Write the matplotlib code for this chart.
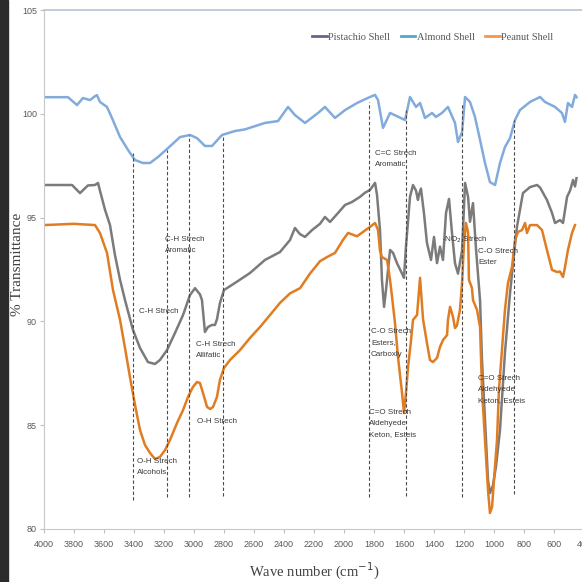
import matplotlib
matplotlib.use("Agg")
import matplotlib.pyplot as plt
from matplotlib.lines import Line2D
from matplotlib.patches import Rectangle

# FTIR spectra of the three shells
almond_wn = [4000, 3840, 3780, 3740, 3693, 3660, 3647, 3627, 3580, 3547, 3493, 3440, 3393, 3340,
             3293, 3240, 3173, 3093, 3027, 2980, 2927, 2880, 2813, 2727, 2660, 2527, 2440, 2373,
             2327, 2260, 2173, 2127, 2060, 1993, 1913, 1827, 1793, 1773, 1740, 1693, 1593, 1560,
             1520, 1493, 1460, 1413, 1387, 1347, 1307, 1260, 1240, 1213, 1193, 1160, 1127, 1093,
             1060, 1027, 993, 960, 927, 893, 860, 827, 760, 693, 660, 593, 547, 527, 507, 480,
             460, 450]
almond_t = [100.8, 100.8, 100.42, 100.76, 100.66, 100.85, 100.9, 100.57, 100.33, 99.8, 98.88,
            98.26, 97.77, 97.63, 97.63, 97.92, 98.35, 98.88, 98.98, 98.83, 98.45, 98.45, 98.98,
            99.17, 99.25, 99.56, 99.65, 100.33, 99.94, 99.56, 100.04, 100.33, 99.8, 100.18,
            100.52, 100.81, 100.91, 100.66, 99.32, 100.04, 99.7, 100.81, 100.33, 100.52, 99.8,
            100.04, 99.85, 100.04, 100.33, 99.56, 98.64, 99.12, 100.81, 100.57, 99.85, 98.74,
            97.63, 96.71, 96.57, 97.63, 98.4, 98.83, 99.7, 100.18, 100.57, 100.81, 100.57,
            100.33, 100.04, 99.61, 100.52, 100.33, 100.91, 100.8]

pistachio_wn = [4000, 3813, 3760, 3707, 3660, 3640, 3627, 3593, 3560, 3527, 3493, 3460, 3407,
                3360, 3307, 3260, 3227, 3180, 3127, 3073, 3027, 2993, 2960, 2947, 2927, 2907,
                2880, 2860, 2847, 2827, 2800, 2727, 2627, 2527, 2427, 2360, 2327, 2293, 2260,
                2213, 2160, 2127, 2093, 2040, 1993, 1947, 1893, 1860, 1827, 1800, 1793, 1780,
                1760, 1747, 1733, 1720, 1693, 1673, 1647, 1613, 1600, 1587, 1560, 1540, 1520,
                1507, 1500, 1487, 1467, 1447, 1420, 1400, 1380, 1360, 1340, 1320, 1300, 1280,
                1260, 1240, 1213, 1193, 1173, 1160, 1140, 1120, 1093, 1080, 1060, 1040, 1027,
                1007, 987, 960, 927, 893, 870, 847, 807, 760, 713, 693, 647, 613, 593, 560, 540,
                513, 493, 473, 460, 450]
pistachio_t = [96.57, 96.57, 96.18, 96.55, 96.57, 96.67, 96.3, 95.37, 94.64, 93.2, 92.0, 91.03,
               89.59, 88.72, 88.04, 87.95, 88.14, 88.62, 89.44, 90.31, 91.27, 91.6, 91.3, 91.03,
               89.49, 89.73, 89.83, 89.83, 90.1, 90.89, 91.51, 91.85, 92.33, 92.96, 93.34, 93.92,
               94.5, 94.2, 94.07, 94.4, 94.7, 95.03, 94.79, 95.22, 95.61, 95.75, 96.0, 96.2,
               96.33, 96.6, 96.67, 96.1, 94.4, 92.0, 90.7, 91.51, 93.44, 93.3, 92.81, 92.3, 92.1,
               93.6, 96.0, 96.57, 96.3, 95.85, 96.1, 96.4, 95.22, 93.78, 92.96, 94.07, 92.81,
               93.6, 92.96, 95.22, 95.9, 94.26, 92.8, 92.3, 93.4, 96.67, 96.0, 94.8, 95.7, 93.5,
               91.0, 88.14, 85.25, 82.36, 81.73, 82.1, 83.0, 84.77, 88.5, 91.37, 93.0, 94.55,
               96.18, 96.47, 96.57, 96.45, 95.85, 95.22, 94.74, 94.88, 94.74, 96.0, 96.3, 96.81,
               96.5, 96.9]

peanut_wn = [4000, 3800, 3660, 3627, 3580, 3540, 3493, 3460, 3427, 3393, 3360, 3327, 3293, 3260,
             3227, 3193, 3160, 3113, 3073, 3040, 3007, 2980, 2960, 2940, 2913, 2893, 2873, 2847,
             2827, 2800, 2760, 2693, 2627, 2560, 2493, 2427, 2360, 2293, 2227, 2160, 2113, 2060,
             2007, 1973, 1913, 1827, 1793, 1773, 1760, 1747, 1713, 1693, 1680, 1660, 1640, 1613,
             1600, 1587, 1573, 1553, 1540, 1513, 1493, 1473, 1447, 1427, 1407, 1380, 1360, 1340,
             1313, 1307, 1293, 1273, 1260, 1247, 1227, 1213, 1200, 1187, 1173, 1167, 1147, 1140,
             1113, 1093, 1080, 1060, 1040, 1027, 1013, 1000, 980, 967, 947, 927, 907, 880, 860,
             840, 813, 793, 780, 760, 713, 680, 647, 613, 580, 560, 540, 527, 507, 480, 460]
peanut_t = [94.64, 94.7, 94.64, 94.26, 93.3, 91.51, 90.07, 88.72, 87.32, 85.97, 84.77, 84.05,
            83.66, 83.37, 83.47, 83.8, 84.29, 85.11, 85.73, 86.36, 86.84, 87.08, 87.03, 86.55,
            85.88, 85.78, 85.88, 86.36, 87.18, 87.76, 88.14, 88.62, 89.2, 89.73, 90.31, 90.89,
            91.35, 91.6, 92.3, 92.9, 93.1, 93.3, 93.92, 94.26, 94.1, 94.55, 94.74, 94.4, 93.4,
            93.1, 92.96, 92.0, 91.2, 89.92, 88.28, 86.55, 85.59, 86.55, 87.8, 89.1, 90.07, 90.31,
            92.1, 90.1, 88.96, 88.14, 88.04, 88.24, 88.77, 89.1, 89.34, 90.07, 90.7, 90.21,
            89.68, 89.8, 90.55, 91.85, 93.78, 94.74, 94.3, 92.0, 91.61, 91.03, 90.55, 89.73,
            86.7, 84.29, 81.88, 80.77, 81.06, 82.36, 84.29, 86.7, 88.62, 90.55, 91.85, 92.62,
            93.92, 94.31, 94.4, 94.74, 94.26, 94.64, 94.64, 94.4, 93.44, 92.48, 92.38, 92.4,
            92.14, 92.6, 93.44, 94.26, 94.64]

# band marker lines: position, top, bottom
band_wn = [3407, 3180, 3033, 2807, 1833, 1587, 1213, 867]
band_top = [98.1, 98.26, 98.98, 98.98, 100.57, 100.18, 100.52, 99.7]
band_bottom = [81.4, 81.55, 81.55, 81.6, 81.55, 81.6, 81.55, 81.7]

# annotation texts (left edge wavenumber, top %T, text)
notes = [
    (3193, 94.11, "C-H Strech\nAromatic"),
    (3367, 90.65, "C-H Strech"),
    (2987, 89.06, "C-H Strech\nAllifatic"),
    (2980, 85.35, "O-H Strech"),
    (3380, 83.42, "O-H Strech\nAlcohols"),
    (1793, 98.26, "C=C Strech\nAromatic"),
    (1347, 94.21, "-NO$_2$ Strech"),
    (1107, 93.54, "C-O Strech\nEster"),
    (1820, 89.68, "C-O Strech\nEsters,\nCarboxly"),
    (1833, 85.78, "C=O Strech\nAldehyede\nKeton, Esteis"),
    (1107, 87.42, "C=O Strech\nAldehyede\nKeton, Esteis"),
]

xticks = list(range(4000, 399, -200))
yticks = [80, 85, 90, 95, 100, 105]

narrow = ["Liberation Sans Narrow", "Liberation Sans", "DejaVu Sans"]
serif = ["Liberation Serif", "DejaVu Serif"]

fig = plt.figure(figsize=(5.82, 5.82), dpi=100)
ax = fig.add_axes([44 / 582, 53 / 582, 540 / 582, 519 / 582])

ax.plot(almond_wn, almond_t, color="#82abdc", lw=1.8)
ax.plot(pistachio_wn, pistachio_t, color="#7b7b7b", lw=1.8)
ax.plot(peanut_wn, peanut_t, color="#e07d22", lw=1.8)

ax.vlines(band_wn, band_bottom, band_top, colors="#4a4a4a", linestyles=(0, (3, 2)), lw=0.8)

for x, y, s in notes:
    ax.text(x, y, s, fontsize=5.8, family=narrow, color="#3a3a3a", va="top", ha="left",
            linespacing=1.85)

ax.set_xlim(4000, 400)
ax.set_ylim(80, 105)
ax.set_xticks(xticks)
ax.set_yticks(yticks)
ax.tick_params(axis="both", labelsize=6.5, colors="#bfbfbf", labelcolor="#595959", length=3)
for lab in ax.get_xticklabels() + ax.get_yticklabels():
    lab.set_family(narrow)
ax.tick_params(axis="x", pad=5)
ax.tick_params(axis="y", pad=2)

ax.spines["right"].set_visible(False)
ax.spines["left"].set_color("#c8c8c8")
ax.spines["bottom"].set_color("#c8c8c8")
ax.spines["top"].set_color("#b7c3d3")
ax.spines["top"].set_linewidth(1.2)

ax.set_xlabel("Wave number (cm$^{-1}$)", family=serif, fontsize=10.5, color="#404040")
ax.set_ylabel("% Transmittance", family=serif, fontsize=11, color="#404040")
ax.xaxis.set_label_coords(0.5, -0.062)
ax.yaxis.set_label_coords(-0.037, 0.51)

handles = [Line2D([], [], color="#6f5f93", lw=2),
           Line2D([], [], color="#4bacc6", lw=2),
           Line2D([], [], color="#f79646", lw=2)]
leg = ax.legend(handles, ["Pistachio Shell", "Almond Shell", "Peanut Shell"], ncol=3,
                loc="center", bbox_to_anchor=(0.72, 0.948), frameon=False,
                handlelength=1.4, handletextpad=0.15, columnspacing=1.0,
                prop={"family": serif, "size": 7.5})
for t in leg.get_texts():
    t.set_color("#595959")

# dark strip on the left edge of the scanned picture
fig.patches.append(Rectangle((0, 0), 8 / 582, 1, transform=fig.transFigure,
                             color="#2b2b2b", zorder=-1))

fig.savefig("out.png", dpi=100)
